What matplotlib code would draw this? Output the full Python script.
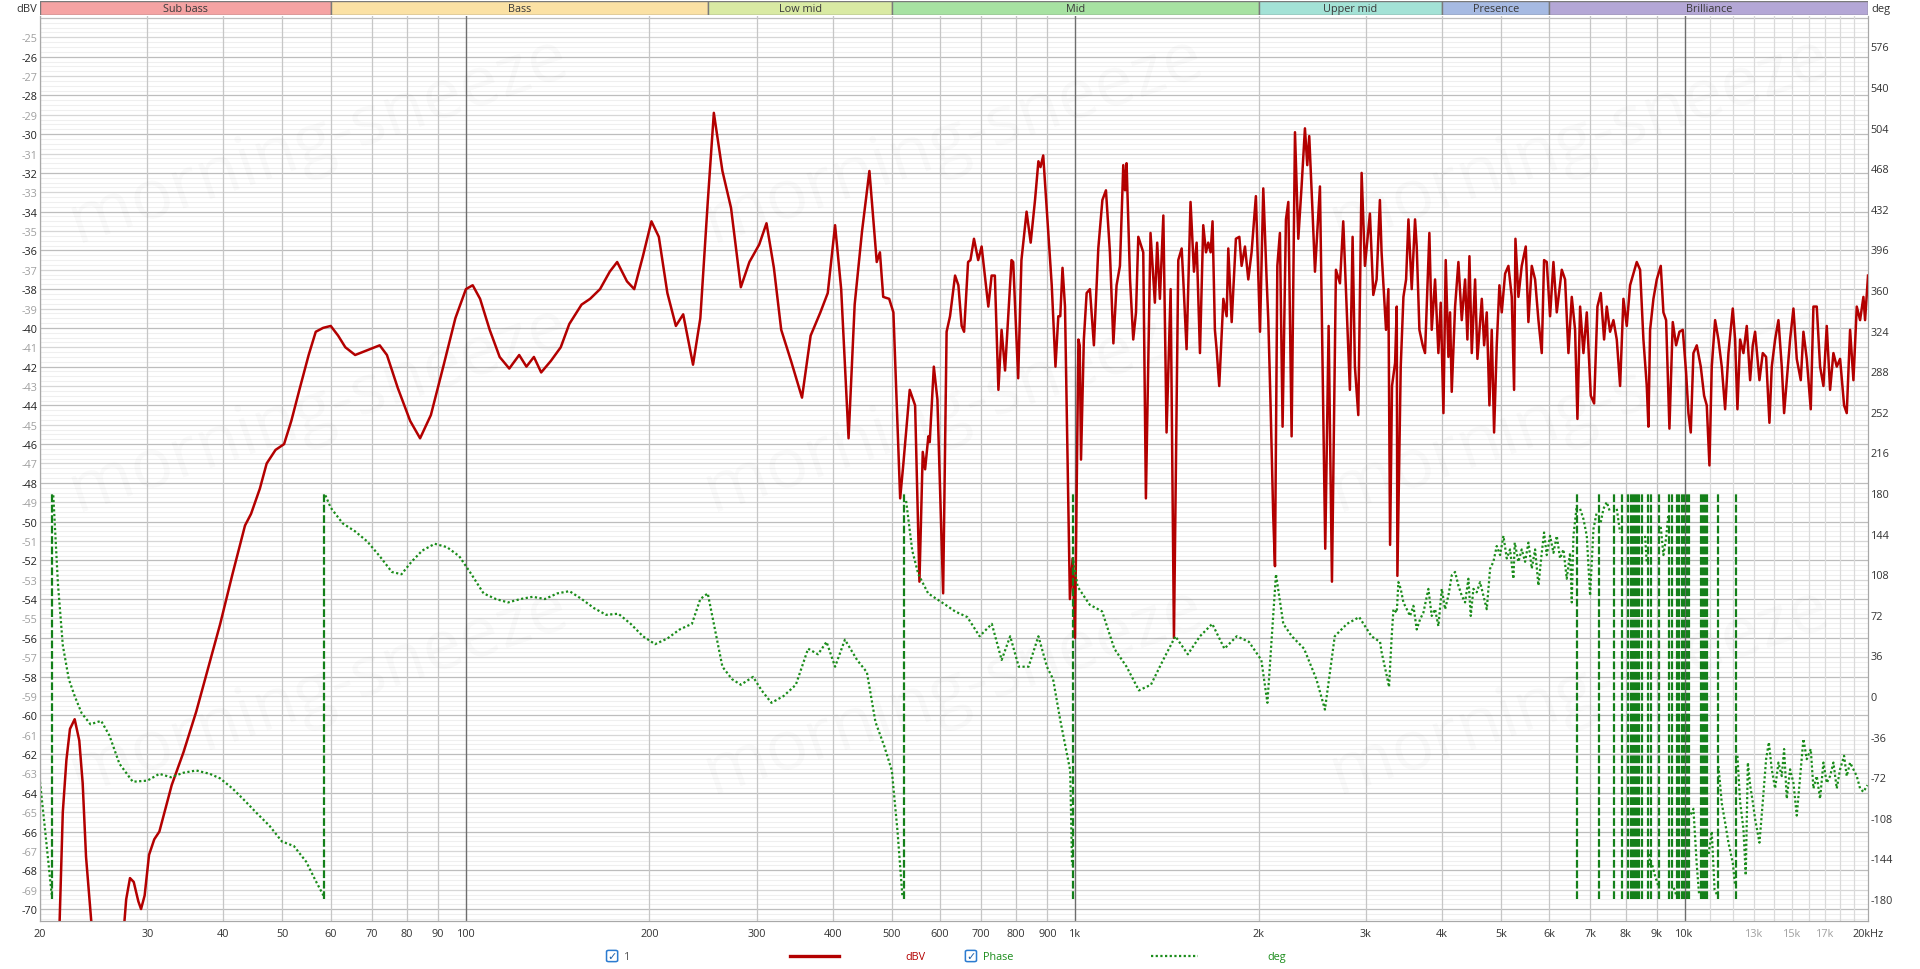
import numpy as np
import matplotlib
matplotlib.use("Agg")
import matplotlib.pyplot as plt
from matplotlib.lines import Line2D
from matplotlib.patches import FancyBboxPatch

plt.rcParams['font.family'] = ['Open Sans', 'DejaVu Sans']

# ---- data ----
# level (dBV) vs frequency (Hz)
dbv_freq = [
    21.5, 21.8, 22.1, 22.4, 22.8, 23.2, 23.5, 23.8, 24.3, 25.0, 26.5, 27.3, 27.7, 28.1, 28.5, 29.0,
    29.3, 29.7, 30.2, 30.8, 31.4, 32.9, 34.4, 36.1, 37.8, 39.5, 41.4, 43.4, 44.4, 45.9, 47.1, 48.7,
    50.3, 51.7, 53.4, 55.2, 56.7, 58.3, 60.0, 61.7, 63.4, 65.8, 68.3, 72.2, 74.2, 77.3, 81.0, 84.1,
    87.6, 91.8, 96.1, 100, 102.6, 105.5, 109.4, 113.6, 117.8, 122.3, 125.7, 129.3, 132.9, 137.9,
    143.1, 147.8, 154.8, 159.9, 166.0, 172.2, 177.1, 183.8, 188.9, 195.2, 201.6, 207.3, 214.1,
    221.1, 227.3, 235.9, 242.5, 249.4, 255.2, 263.6, 272.3, 282.6, 291.9, 302.9, 311.4, 320.2,
    329.2, 341.6, 356.1, 367.9, 381.7, 392.5, 403.5, 412.9, 424.6, 434.5, 446.8, 459.4, 472.3,
    478, 484, 495, 503, 509, 516, 522, 535, 546, 555, 562, 567, 574, 577, 586, 594, 607, 615, 623,
    635, 643, 651, 657, 667, 673, 682, 693, 702, 720, 729, 738, 748, 757, 767, 786, 791, 806, 816,
    832, 845, 859, 870, 877, 886, 897, 915, 928, 938, 945, 953, 962, 980, 990, 999, 1012, 1017,
    1022, 1033, 1044, 1057, 1073, 1091, 1108, 1123, 1140, 1155, 1169, 1184, 1199, 1207, 1214, 1230,
    1245, 1258, 1269, 1293, 1306, 1329, 1351, 1363, 1377, 1395, 1412, 1434, 1452, 1476, 1495, 1504,
    1523, 1546, 1566, 1582, 1602, 1622, 1639, 1653, 1668, 1680, 1695, 1706, 1723, 1750, 1772, 1783,
    1806, 1835, 1859, 1875, 1899, 1923, 1947, 1979, 2010, 2035, 2061, 2074, 2092, 2113, 2127, 2146,
    2167, 2189, 2217, 2237, 2265, 2294, 2323, 2352, 2382, 2403, 2421, 2452, 2474, 2521, 2572, 2605,
    2638, 2678, 2719, 2753, 2788, 2823, 2852, 2877, 2914, 2951, 2988, 3045, 3084, 3123, 3162,
    3182, 3236, 3265, 3286, 3310, 3349, 3370, 3378, 3421, 3456, 3491, 3522, 3566, 3611, 3634, 3671,
    3717, 3750, 3812, 3846, 3895, 3944, 3979, 4020, 4055, 4096, 4122, 4148, 4201, 4254, 4308, 4363,
    4401, 4435, 4474, 4531, 4571, 4647, 4688, 4735, 4783, 4825, 4868, 4917, 4967, 5011, 5075, 5139,
    5204, 5250, 5277, 5337, 5404, 5487, 5542, 5613, 5684, 5756, 5829, 5880, 5940, 6015, 6092, 6169,
    6287, 6366, 6447, 6529, 6611, 6670, 6738, 6823, 6910, 7015, 7104, 7194, 7285, 7377, 7452, 7546,
    7642, 7739, 7837, 7936, 8037, 8138, 8242, 8346, 8452, 8559, 8668, 8722, 8778, 8889, 9002, 9139,
    9231, 9325, 9443, 9563, 9684, 9807, 9931, 10057, 10146, 10236, 10339, 10471, 10630, 10765,
    10874, 10984, 11081, 11222, 11364, 11508, 11654, 11802, 11997, 12103, 12210, 12334, 12490,
    12648, 12809, 12939, 13053, 13269, 13437, 13607, 13779, 13901, 14078, 14256, 14437, 14565,
    14712, 14898, 15087, 15278, 15511, 15668, 15867, 16108, 16271, 16477, 16686, 16898, 17112,
    17329, 17548, 17771, 17996, 18270, 18455, 18689, 18926, 19166, 19409, 19655, 19778, 19953, 20000,
]
dbv_level = [
    -71.5, -65.0, -62.3, -60.7, -60.2, -61.3, -63.5, -67.3, -70.8, -75.0, -75.0, -72.0, -69.5, -68.4,
    -68.6, -69.6, -70.0, -69.3, -67.2, -66.4, -66.0, -63.6, -61.9, -59.8, -57.5, -55.3, -52.7, -50.2,
    -49.6, -48.3, -47.0, -46.3, -46.0, -44.8, -43.1, -41.4, -40.2, -40.0, -39.9, -40.4, -41.0, -41.4,
    -41.2, -40.9, -41.4, -43.1, -44.8, -45.7, -44.5, -42.0, -39.5, -38.0, -37.8, -38.5, -40.1, -41.5,
    -42.1, -41.4, -42.0, -41.5, -42.3, -41.7, -41.0, -39.8, -38.8, -38.5, -38.0, -37.1, -36.6, -37.6,
    -38.0, -36.3, -34.5, -35.3, -38.2, -39.9, -39.3, -41.9, -39.5, -33.5, -28.9, -31.9, -33.8, -37.9,
    -36.6, -35.7, -34.6, -36.9, -40.1, -41.7, -43.6, -40.4, -39.2, -38.2, -34.7, -38.0, -45.7, -38.8,
    -35.0, -31.9, -36.6,
    -36.1, -38.4, -38.5, -39.2, -43.7, -48.8, -47.1, -43.2, -44.0, -53.1, -46.4, -47.3, -45.6, -45.9,
    -42.0, -43.7, -53.7, -40.2, -39.4, -37.3, -37.8, -39.9, -40.2, -36.6, -36.5, -35.4, -36.5, -35.8,
    -38.9, -37.3, -37.3, -43.2, -40.1, -42.2, -36.5, -36.6, -42.6, -36.5, -34.0, -35.6, -33.4, -31.4,
    -31.7, -31.1, -33.7, -37.8, -42.0, -39.4, -39.4, -36.9, -38.9, -54.0, -51.9, -56.0, -40.6, -40.9,
    -46.8, -40.6, -38.2, -38.0, -40.9, -35.9, -33.4, -32.9, -36.1, -40.8, -37.8, -36.8, -31.6, -32.9,
    -31.5, -37.5, -40.6, -39.2, -35.3, -36.1, -48.8, -35.1, -38.7, -35.6, -38.5, -34.2, -45.4, -38.0,
    -56.0, -36.5, -35.9, -37.5, -41.1, -33.5, -37.1, -35.6, -41.3, -34.7, -36.1, -35.6, -36.1, -34.5,
    -40.1, -41.1, -43.0, -38.5, -39.4, -35.9, -39.7, -35.4, -35.3, -36.8, -35.8, -37.5, -36.1, -33.2,
    -40.2, -32.8, -37.5, -39.6, -44.0, -49.7, -52.3, -36.8, -35.1, -45.1, -34.4, -33.5, -45.6, -29.9,
    -35.4, -32.7, -29.7, -31.6, -30.1, -34.1, -37.1, -32.7, -51.4, -39.9, -53.1, -37.0, -37.7, -34.5,
    -38.9, -43.2, -35.3, -42.0, -44.5, -32.0, -36.8, -34.1, -38.3, -37.5, -33.4,
    -36.1, -40.1, -38.0, -51.2, -43.0, -41.8, -38.9, -52.8, -42.0, -38.4, -37.5, -34.4, -38.0, -34.4,
    -35.8, -40.1, -40.9, -41.3, -35.1, -40.1, -37.5, -41.3, -38.7, -44.4, -36.5, -41.5, -39.2, -43.3,
    -38.9, -36.6, -39.6, -37.5, -40.6, -36.3, -41.3, -37.5, -41.6, -38.5, -40.9, -39.2, -44.0, -40.1,
    -45.4, -40.9, -37.8, -39.2, -37.2, -36.8, -38.4, -43.2, -35.4, -38.4, -36.8, -35.8, -39.7, -36.8,
    -37.5, -39.6, -41.3, -36.5, -36.6, -39.4, -36.6, -39.2, -37.0, -37.5, -41.3, -38.4, -40.1, -44.7,
    -38.9, -41.3, -39.2, -43.5, -43.9, -38.9, -38.2, -40.6, -38.9, -40.2, -39.6, -40.6, -43.0, -38.5,
    -39.9, -37.8, -37.2, -36.6, -37.0, -40.6, -43.0, -45.1, -40.1, -38.5, -37.5, -36.8, -39.2, -39.6,
    -45.2, -39.7, -40.9, -40.2, -40.1, -42.3, -44.4, -45.4, -41.3, -40.9, -42.0, -43.5, -44.0, -47.1,
    -42.0, -39.6, -40.6, -42.0, -44.2, -41.3, -39.0, -40.6, -44.2, -40.6, -41.3, -39.9, -42.7, -40.9,
    -40.2, -42.7, -41.3, -41.5, -44.9, -42.0, -40.6, -39.6, -42.0, -44.4, -42.7, -40.6, -39.0, -41.6,
    -42.7, -40.2, -41.6, -44.2, -38.9, -38.9, -42.0, -43.0, -39.9, -43.2, -41.3, -42.0, -41.6, -44.0,
    -44.4, -40.1, -42.7, -38.9, -39.6, -38.4, -39.6, -37.8, -37.3,
]

# phase (deg) vs frequency (Hz); the trace wraps at the frequencies in phase_wraps
phase_freq = [
    20, 20.4, 20.9, 21.03, 21.4, 21.8, 22.3, 22.8, 23.4, 24.2, 25.2, 26.0, 27.0, 28.4, 30.0, 31.4,
    32.8, 34.4, 36.1, 38.0, 39.5, 41.4, 43.4, 45.4, 47.6, 49.9, 52.2, 54.7, 56.7, 58.4,
    58.8, 60, 62.8, 65.8, 68.9, 72.2, 75.6, 78.4, 81.4, 84.8, 88.9, 93.1, 97.5, 102.1, 106.9, 112,
    117.3, 122.9, 128.7, 134.8, 141.2, 147.9, 154.9, 162.2, 169.9, 177.9, 186.4, 195.2, 204.4,
    214.1, 224.2, 234.9, 242.5, 249.4, 257.6, 263.6, 273.3, 282.6, 296, 305.7, 317.2, 332.2, 347.9,
    364.4, 378.2, 390.7, 403.5, 418.8, 438.5, 455.1, 470, 485.6, 500, 510.9, 520.5,
    527.8, 540.1, 552.7, 573.6, 592.5, 612.1, 635.1, 665.1, 696.6, 729.6, 757.2, 782, 807.8, 838.3,
    870, 898.5, 919.6, 945.4, 963.2, 981.1, 988,
    993, 1009, 1056, 1107, 1159, 1214, 1272, 1331, 1394, 1460, 1530, 1602, 1678, 1757, 1841, 1928,
    2020, 2067, 2135, 2195, 2267, 2374, 2487, 2569, 2666, 2792, 2924, 3063, 3164, 3182, 3245, 3273,
    3307, 3328, 3370, 3391, 3421, 3456, 3499, 3544, 3589, 3634, 3680, 3727, 3798, 3846, 3895, 3944,
    3995, 4045, 4096, 4148, 4201, 4254, 4308, 4363, 4418, 4457, 4502, 4559, 4617, 4676, 4735, 4795,
    4855, 4917, 4980, 5043, 5107, 5171, 5237, 5263, 5337, 5404, 5473, 5542, 5613, 5684, 5756, 5829,
    5880, 5940, 6015, 6092, 6169, 6247, 6327, 6406, 6488, 6529, 6570, 6654,
    6738, 6823, 6910, 6997, 7086, 7175, 7285, 7359, 7452, 7546, 7739, 7837, 7986, 8613, 8668,
    8750, 8778, 8850, 8950, 9050, 9139, 9231, 9325, 9400, 9600, 9680, 10236, 10339, 10471, 10560,
    10950, 11081, 11200, 11300, 11364, 11508, 11654, 11802, 11997, 12103,
    12210, 12334, 12490, 12600, 12700, 12809, 12939, 13053, 13269, 13437, 13607, 13750, 13901,
    14078, 14256, 14437, 14565, 14712, 14898, 15087, 15278, 15511, 15668, 15867, 16108, 16271,
    16477, 16686, 16898, 17112, 17329, 17548, 17771, 17996, 18270, 18455, 18689, 18926, 19166,
    19409, 19655, 19953,
]
phase_deg = [
    -76, -120, -176, 178, 100, 45, 15, 0, -15, -25, -22, -35, -60, -76, -75, -69,
    -72, -68, -66, -69, -73, -82, -93, -104, -115, -129, -133, -147, -164, -177,
    178, 167, 153, 146, 137, 124, 110, 108, 119, 129, 135, 132, 124, 108, 91, 86,
    83, 86, 88, 86, 91, 93, 86, 78, 72, 73, 64, 53, 46,
    51, 59, 64, 86, 91, 53, 26, 15, 10, 17, 5, -6, 0, 10,
    42, 37, 48, 26, 50, 32, 21, -23, -44, -66, -120, -178,
    173, 129, 108, 91, 86, 81, 75, 70, 53, 64, 32, 53, 26, 26,
    53, 26, 15, -22, -44, -66, -150,
    120, 97, 81, 75, 42, 26, 5, 10, 32, 53, 37, 53, 64, 42, 53, 48,
    32, -6, 108, 64, 53, 42, 15, -12, 53, 64, 70, 53, 48, 39, 18, 8,
    54, 77, 74, 101, 95, 83, 77, 71, 80, 59, 68, 74, 95, 71, 77, 62,
    95, 77, 89, 107, 110, 98, 89, 83, 104, 71, 95, 92, 101, 89, 77, 113,
    119, 133, 125, 142, 122, 130, 104, 136, 119, 130, 119, 136, 113, 130, 98, 127,
    145, 125, 142, 127, 142, 122, 130, 104, 127, 83, 142, 169,
    166, 157, 142, 89, 148, 163, 154, 166, 172, 163, 166, 145, 150, 142, 118,
    -140, -150, -150, -160, -168, 150, 125, 140, 160, -170, -176, -105, -100, -150, -175,
    -140, -120, -172, -176, -62, -95, -112, -130, -148, -168,
    -53, -94, -118, -159, -59, -79, -94, -109, -130, -94, -56, -41, -65,
    -82, -59, -71, -47, -91, -65, -77, -106, -65, -38, -56, -47, -82,
    -71, -91, -59, -77, -71, -59, -82, -65, -53, -71, -59, -65, -71,
    -82, -85, -79,
]
phase_wraps = [
    20.95, 58.6, 523, 990, 6670, 7238, 7671, 7907, 8087, 8159, 8221, 8293, 8367, 8430, 8505,
    8722, 8798, 9093, 9443, 9527, 9708, 9794, 9894, 9981, 10082, 10172, 10630, 10711, 10805,
    10887, 11335, 12149,
]

# frequency bands shown above the plot
band_names = ['Sub bass', 'Bass', 'Low mid', 'Mid', 'Upper mid', 'Presence', 'Brilliance']
band_edges = [20, 60, 250, 500, 2000, 4000, 6000, 20000]
band_colors = ['#f5a3a3', '#fbe1a4', '#d9eaa3', '#a7e2a2', '#a3e2d6', '#a6bae2', '#b4a7d6']

xtick_vals = [20, 30, 40, 50, 60, 70, 80, 90, 100, 200, 300, 400, 500, 600, 700, 800, 900,
              1000, 2000, 3000, 4000, 5000, 6000, 7000, 8000, 9000, 10000, 13000, 15000, 17000, 20000]
xtick_text = ['20', '30', '40', '50', '60', '70', '80', '90', '100', '200', '300', '400', '500',
              '600', '700', '800', '900', '1k', '2k', '3k', '4k', '5k', '6k', '7k', '8k', '9k',
              '10k', '13k', '15k', '17k', '20kHz']

RED = '#b30000'
GREEN = '#1a8c1a'

fig = plt.figure(figsize=(19.2, 9.7), dpi=100)
fig.patch.set_facecolor('white')
ax = fig.add_axes([0.02083, 0.0498, 0.9521, 0.9327])
ax.set_xscale('log')
ax.set_xlim(20, 20000)
ax.set_ylim(-70.6, -23.9)

# grid
for v in np.arange(-70.5, -23.9, 0.25):
    if abs(v - round(v)) > 0.01:
        ax.axhline(v, color='#efefef', lw=0.8, zorder=0)
for v in range(-70, -23):
    ax.axhline(v, color='#bdbdbd' if v % 2 == 0 else '#d6d6d6', lw=0.9, zorder=0.5)
vgrid = list(range(20, 100, 10)) + list(range(200, 1000, 100)) + list(range(2000, 10000, 1000))
for v in vgrid:
    ax.axvline(v, color='#c6c6c6', lw=0.9, zorder=0.6)
for v in range(11000, 20000, 1000):
    ax.axvline(v, color='#dadada', lw=0.9, zorder=0.6)
for v in [100, 1000, 10000]:
    ax.axvline(v, color='#6e6e6e', lw=1.0, zorder=0.7)

ax.plot(dbv_freq, dbv_level, color=RED, lw=1.8, solid_joinstyle='round', zorder=3)

ax.set_xticks(xtick_vals)
ax.set_xticklabels(xtick_text)
ax.xaxis.set_minor_locator(matplotlib.ticker.NullLocator())
ax.set_yticks(range(-70, -24))
ax.set_yticklabels([str(v) for v in range(-70, -24)])
ax.tick_params(axis='both', length=0, labelsize=7.8, colors='#333333')
ax.tick_params(axis='x', pad=5)
ax.tick_params(axis='y', pad=2)
for lab, v in zip(ax.get_yticklabels(), range(-70, -24)):
    lab.set_color('#222222' if v % 2 == 0 else '#a0a0a0')
for lab, t in zip(ax.get_xticklabels(), xtick_text):
    if t in ('13k', '15k', '17k'):
        lab.set_color('#a0a0a0')
for s in ['left', 'right', 'bottom']:
    ax.spines[s].set_color('#a8a8a8')
ax.spines['top'].set_visible(False)

# phase on the right axis
ax2 = ax.twinx()
ax2.set_ylim(-199.2, 603)
pf = np.array(phase_freq, dtype=float)
pdg = np.array(phase_deg, dtype=float)
cut = np.searchsorted(pf, phase_wraps)
pf = np.insert(pf, cut, np.nan)
pdg = np.insert(pdg, cut, np.nan)
ax2.plot(pf, pdg, color=GREEN, lw=1.6, linestyle=(0, (1, 1.1)), zorder=2)
ax2.vlines(phase_wraps, -180, 180, color='#14801a', lw=1.6, linestyles=(0, (3.5, 1.2)), zorder=2)
ax2.set_yticks(range(-180, 577, 36))
ax2.set_yticklabels([str(v) for v in range(-180, 577, 36)])
ax2.tick_params(axis='y', length=0, labelsize=7.8, colors='#333333', pad=2)
for s in ['left', 'right', 'bottom']:
    ax2.spines[s].set_color('#a8a8a8')
ax2.spines['top'].set_visible(False)

# band strip
bax = fig.add_axes([0.02083, 0.9835, 0.9521, 0.0144])
bax.set_xscale('log')
bax.set_xlim(20, 20000)
bax.set_ylim(0, 1)
bax.axis('off')
for name, lo, hi, c in zip(band_names, band_edges[:-1], band_edges[1:], band_colors):
    bax.axvspan(lo, hi, ymin=0, ymax=1, facecolor=c, edgecolor='#7a7a7a', lw=1.0)
    bax.text(np.sqrt(lo * hi), 0.45, name, ha='center', va='center', fontsize=7.8, color='#3a3a3a')

fig.text(0.0195, 0.9905, 'dBV', ha='right', va='center', fontsize=8, color='#333333')
fig.text(0.9745, 0.9905, 'deg', ha='left', va='center', fontsize=8, color='#333333')

# watermark (very faint)
for fx in [0.166, 0.497, 0.823]:
    for fy in [0.855, 0.577, 0.287]:
        fig.text(fx, fy, 'morning-sneeze', fontsize=50, rotation=19, color='#000000',
                 alpha=0.022, ha='center', va='center')

# legend row
ly = 0.0134
for bx, label, col in [(0.3188, '1', '#555555'), (0.5057, 'Phase', GREEN)]:
    fig.patches.append(FancyBboxPatch((bx - 0.0029, ly - 0.0058), 0.0058, 0.0116,
                                      boxstyle='round,pad=0,rounding_size=0.0012',
                                      transform=fig.transFigure, facecolor='white',
                                      edgecolor='#2b7bd0', lw=1.1))
    fig.text(bx, ly, '\u2713', ha='center', va='center', fontsize=8, color='#1d5fa8',
             family='DejaVu Sans', fontweight='bold')
    fig.text(bx + 0.0062, ly, label, ha='left', va='center', fontsize=7.8, color=col)
fig.add_artist(Line2D([0.4115, 0.437], [ly, ly], transform=fig.transFigure, color=RED, lw=2.4))
fig.text(0.477, ly, 'dBV', ha='center', va='center', fontsize=7.8, color=RED)
fig.add_artist(Line2D([0.5995, 0.624], [ly, ly], transform=fig.transFigure, color=GREEN, lw=1.6,
                      linestyle=(0, (1, 1.1))))
fig.text(0.665, ly, 'deg', ha='center', va='center', fontsize=7.8, color=GREEN)

fig.savefig('out.png', dpi=100, facecolor='white')
